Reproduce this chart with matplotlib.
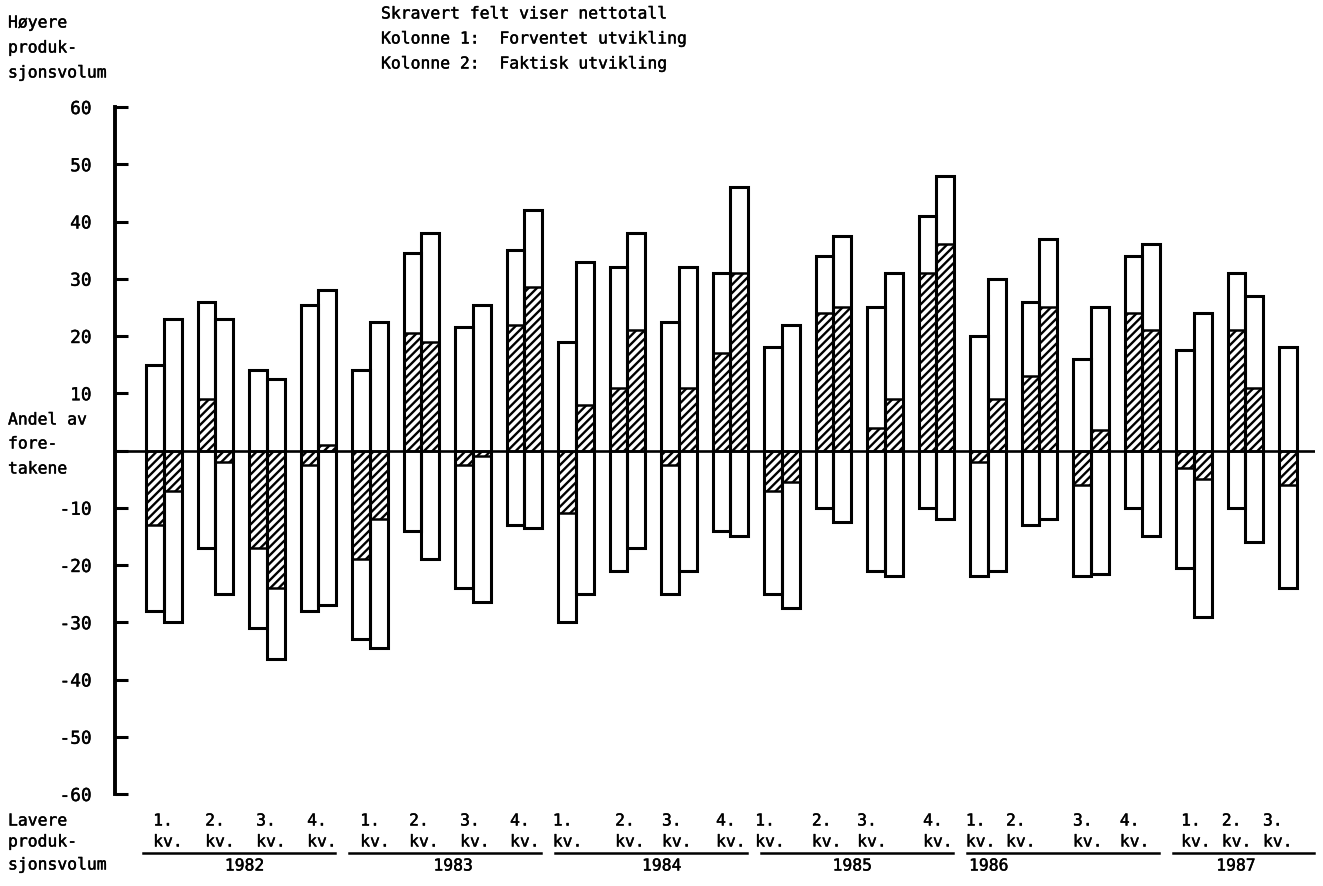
import matplotlib
matplotlib.use("Agg")
import matplotlib.pyplot as plt
import matplotlib.transforms as mtransforms
import matplotlib.patheffects as pe
from matplotlib.lines import Line2D
import numpy as np

# ---------------- data ----------------
period_quarter = ["1.", "2.", "3.", "4."] * 5 + ["1.", "2.", "3."]
period_year = (["1982"] * 4 + ["1983"] * 4 + ["1984"] * 4 + ["1985"] * 4
               + ["1986"] * 4 + ["1987"] * 3)
years = ["1982", "1983", "1984", "1985", "1986", "1987"]

# Kolonne 1: Forventet utvikling (share higher / share lower)
exp_high = [15, 26, 14, 25.5, 14, 34.5, 21.5, 35, 19, 32, 22.5, 31,
            18, 34, 25, 41, 20, 26, 16, 34, 17.5, 31, 18]
exp_low = [28, 17, 31, 28, 33, 14, 24, 13, 30, 21, 25, 14,
           25, 10, 21, 10, 22, 13, 22, 10, 20.5, 10, 24]
# Kolonne 2: Faktisk utvikling
act_high = [23, 23, 12.5, 28, 22.5, 38, 25.5, 42, 33, 38, 32, 46,
            22, 37.5, 31, 48, 30, 37, 25, 36, 24, 27]
act_low = [30, 25, 36.5, 27, 34.5, 19, 26.5, 13.5, 25, 17, 21, 15,
           27.5, 12.5, 22, 12, 21, 12, 21.5, 15, 29, 16]

yticks = [-60, -50, -40, -30, -20, -10, 0, 10, 20, 30, 40, 50, 60]

# ---------------- layout (not data) ----------------
label_offset = [-0.21, -0.20, -0.21, -0.22, -0.19, -0.24, -0.25, -0.28,
                -0.45, -0.24, -0.33, -0.28, -0.52, -0.42, -0.54, -0.26,
                -0.43, -0.65, -0.35, -0.44, -0.25, -0.46, -0.66]
year_label_shift = [0.1, 0.15, 0.2, -0.1, -1.45, -0.15]

W, H = 1323, 887
plt.rcParams["font.family"] = ["DejaVu Sans Mono"]
plt.rcParams["hatch.linewidth"] = 1.7
plt.rcParams["axes.unicode_minus"] = False

thick = [pe.withStroke(linewidth=0.3, foreground="black")]

fig = plt.figure(figsize=(W / 100, H / 100), dpi=100)
ax = fig.add_axes([115 / W, (H - 795) / H, 1200 / W, 687 / H])

n = len(period_quarter)
x = np.arange(n)
bw = 0.344

def draw_col(xpos, hi, lo):
    hi = np.asarray(hi, float)
    lo = np.asarray(lo, float)
    net = hi - lo
    ax.bar(xpos, hi + lo, bottom=-lo, width=bw, facecolor="white",
           edgecolor="none", zorder=2)
    ax.bar(xpos, net, bottom=0, width=bw, facecolor="white", hatch="////",
           edgecolor="black", linewidth=1.8, zorder=3)
    ax.bar(xpos, hi + lo, bottom=-lo, width=bw, facecolor="none",
           edgecolor="black", linewidth=2.2, zorder=4)

draw_col(x - bw / 2, exp_high, exp_low)
draw_col(x[:len(act_high)] + bw / 2, act_high, act_low)

ax.axhline(0, color="black", linewidth=1.9, zorder=5)

ax.set_xlim(-0.951, 22.35)
ax.set_ylim(-60, 60)
for s in ["top", "right", "bottom"]:
    ax.spines[s].set_visible(False)
ax.spines["left"].set_linewidth(2.8)
ax.set_xticks([])
ax.set_yticks(yticks)
ax.set_yticklabels([("" if v == 0 else str(v)) for v in yticks])
ax.tick_params(axis="y", direction="in", length=9, width=2.2, pad=17,
               labelsize=12.8)
for lab in ax.get_yticklabels():
    lab.set_path_effects(thick)

# ---------------- texts ----------------
def fx(px):
    return px / W

def fy(py):
    return 1 - py / H

fs = 11.8
kw = dict(fontsize=fs, va="center", path_effects=thick)
fig.text(fx(381), fy(15), "Skravert felt viser nettotall", **kw)
fig.text(fx(381), fy(40), "Kolonne 1:  Forventet utvikling", **kw)
fig.text(fx(381), fy(65), "Kolonne 2:  Faktisk utvikling", **kw)

for txt, py in [("Høyere", 24), ("produk-", 49), ("sjonsvolum", 74)]:
    fig.text(fx(8), fy(py), txt, **kw)
for txt, py in [("Andel av", 421), ("fore-", 445), ("takene", 470)]:
    fig.text(fx(8), fy(py), txt, **kw)
for txt, py in [("Lavere", 822), ("produk-", 843), ("sjonsvolum", 866)]:
    fig.text(fx(8), fy(py), txt, **kw)

blend = mtransforms.blended_transform_factory(ax.transData, fig.transFigure)
for i, q in enumerate(period_quarter):
    xl = x[i] + label_offset[i]
    ax.text(xl, fy(822), q, transform=blend, ha="left", clip_on=False, **kw)
    ax.text(xl, fy(843), "kv.", transform=blend, ha="left", clip_on=False, **kw)

for k, yr in enumerate(years):
    idx = [i for i, y in enumerate(period_year) if y == yr]
    x0 = x[idx[0]] - 0.4
    x1 = x[idx[-1]] + 0.33
    ax.add_line(Line2D([x0, x1], [fy(854), fy(854)], transform=blend,
                       color="black", linewidth=1.8, clip_on=False))
    ax.text((x0 + x1) / 2 + year_label_shift[k], fy(867), yr, transform=blend,
            ha="center", clip_on=False, **kw)

fig.savefig("out.png", dpi=100)
